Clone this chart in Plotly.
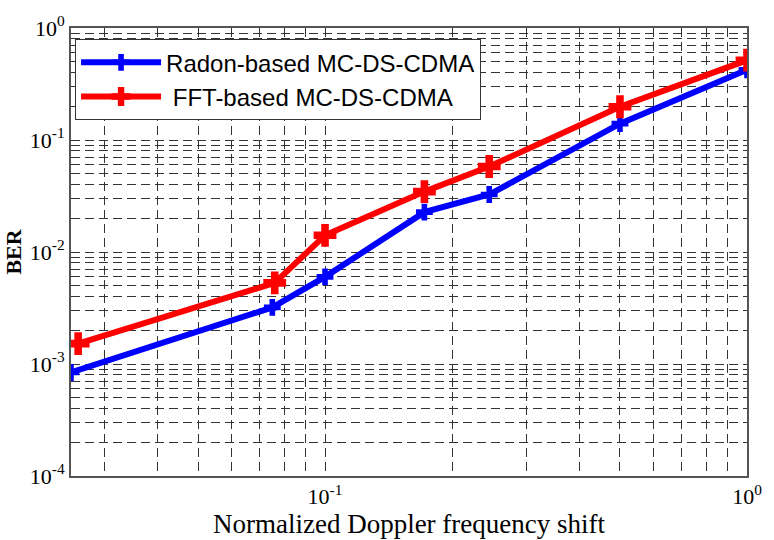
import plotly.graph_objects as go

# Data
radon_x = [0.025, 0.075, 0.1, 0.172, 0.245, 0.5, 1.0]
radon_y = [8.4e-4, 3.2e-3, 6.0e-3, 0.0227, 0.0326, 0.140, 0.423]
fft_x = [0.026, 0.076, 0.1, 0.172, 0.245, 0.5, 1.0]
fft_y = [1.52e-3, 5.3e-3, 0.0141, 0.0346, 0.058, 0.198, 0.516]

x_tickvals = [0.1, 1]
x_ticktext = ["10<sup>-1</sup>", "10<sup>0</sup>"]
y_tickvals = [1e-4, 1e-3, 1e-2, 1e-1, 1]
y_ticktext = ["10<sup>-4</sup>", "10<sup>-3</sup>", "10<sup>-2</sup>", "10<sup>-1</sup>", "10<sup>0</sup>"]

x_minor = [d * 0.01 for d in range(3, 10)] + [d * 0.1 for d in range(2, 10)]
y_minor = [d * 10.0 ** e for e in range(-4, 0) for d in range(2, 10)]

fig = go.Figure()
fig.add_trace(go.Scatter(
    x=radon_x, y=radon_y, mode="lines+markers", name="Radon-based MC-DS-CDMA",
    line=dict(color="#0000ff", width=6),
    marker=dict(symbol="cross", size=14, color="#0000ff"),
))
fig.add_trace(go.Scatter(
    x=fft_x, y=fft_y, mode="lines+markers", name=" FFT-based MC-DS-CDMA",
    line=dict(color="#ff0000", width=6),
    marker=dict(symbol="cross", size=19, color="#ff0000"),
))

grid_color = "#333333"
dash = "9px,5px"
fig.update_xaxes(
    type="log", range=[-1.602, 0], tickvals=x_tickvals, ticktext=x_ticktext,
    showgrid=True, gridcolor=grid_color, griddash=dash, gridwidth=1,
    minor=dict(tickvals=x_minor, showgrid=True, gridcolor=grid_color, griddash=dash, gridwidth=1),
    showline=True, linecolor="#555555", linewidth=2, mirror=True,
    ticks="", zeroline=False,
    tickfont=dict(family="Liberation Serif", size=22, color="black"),
    title=dict(text="Normalized Doppler frequency shift", standoff=0,
               font=dict(family="Liberation Serif", size=27, color="black")),
)
fig.update_yaxes(
    type="log", range=[-4, 0], tickvals=y_tickvals, ticktext=y_ticktext,
    showgrid=True, gridcolor=grid_color, griddash=dash, gridwidth=1,
    minor=dict(tickvals=y_minor, showgrid=True, gridcolor=grid_color, griddash=dash, gridwidth=1),
    showline=True, linecolor="#555555", linewidth=2, mirror=True,
    ticks="", zeroline=False,
    tickfont=dict(family="Liberation Serif", size=22, color="black"),
    title=dict(text="<b>BER</b>", standoff=2,
               font=dict(family="Liberation Serif", size=22, color="black")),
)
fig.update_layout(
    width=774, height=540,
    margin=dict(l=70, r=17, t=24, b=56),
    plot_bgcolor="white", paper_bgcolor="white",
    legend=dict(x=0.006, y=0.975, xanchor="left", yanchor="top",
                bgcolor="white", bordercolor="#333333", borderwidth=1,
                font=dict(family="Liberation Sans", size=24, color="black"),
                itemwidth=80, tracegroupgap=0),
)
fig.write_html("out.html")
